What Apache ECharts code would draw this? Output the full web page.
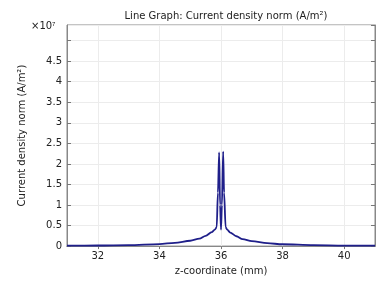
<!DOCTYPE html>
<html>
<head>
<meta charset="utf-8">
<script src="https://cdn.jsdelivr.net/npm/echarts@6/dist/echarts.min.js"></script>
<style>
  html, body { margin: 0; padding: 0; background: #fff; }
  #chart { width: 391px; height: 281px; }
</style>
</head>
<body>
<div id="chart"></div>
<script>
// z-coordinate (mm) and current density norm (A/m^2)
var zCoord = [31, 32, 33, 34, 34.5, 35, 35.3, 35.5, 35.7, 35.8, 35.86, 35.9, 35.94, 35.97, 36.0,
              36.03, 36.07, 36.1, 36.15, 36.2, 36.3, 36.5, 36.7, 37, 37.5, 38, 39, 40, 41];
var jNorm = [0.01e7, 0.015e7, 0.025e7, 0.05e7, 0.08e7, 0.13e7, 0.18e7, 0.25e7, 0.34e7, 0.4e7, 0.46e7, 1.3e7, 2.28e7, 1.0e7, 0.4e7,
             1.0e7, 2.3e7, 1.3e7, 0.46e7, 0.4e7, 0.33e7, 0.24e7, 0.17e7, 0.12e7, 0.07e7, 0.045e7, 0.022e7, 0.013e7, 0.01e7];
var xTicks = [32, 34, 36, 38, 40];

(function() {
    var myChart = echarts.init(document.getElementById('chart'));
    var font = 'DejaVu Sans';
    var pts = zCoord.map(function(z, i) { return [z, jNorm[i]]; });

    var tickStyle = { color: '#777', width: 1 };

    var option = {
        animation: false,
        textStyle: { fontFamily: font },
        title: {
            text: 'Line Graph: Current density norm (A/m²)',
            left: 221, top: 6, textAlign: 'center',
            textStyle: { fontSize: 10, fontWeight: 'normal', color: '#222', fontFamily: font }
        },
        graphic: [{
            type: 'text', left: 31, top: 21,
            style: {
                text: '×10{s|7}',
                rich: { s: { fontSize: 6, verticalAlign: 'top', padding: [0, 0, 5, 0] } },
                fontSize: 10, fill: '#222', fontFamily: font
            }
        }],
        grid: {
            left: 67, right: 16, top: 25, bottom: 29,
            show: true, borderColor: '#888', borderWidth: 1
        },
        xAxis: [{
            type: 'value', min: 31, max: 41, interval: 1,
            name: 'z-coordinate (mm)', nameLocation: 'middle', nameGap: 17,
            nameTextStyle: { fontSize: 10, color: '#222', fontFamily: font },
            axisLine: { lineStyle: { color: '#888' } },
            axisTick: { inside: true, length: 3, lineStyle: tickStyle, customValues: xTicks },
            axisLabel: { fontSize: 10, color: '#222', margin: 5, customValues: xTicks },
            splitLine: { show: false }
        }, {
            type: 'value', position: 'top', min: 31, max: 41, interval: 1,
            axisLine: { lineStyle: { color: '#888' } },
            axisTick: { inside: true, length: 3, lineStyle: tickStyle, customValues: xTicks },
            axisLabel: { show: false },
            splitLine: { show: false }
        }],
        yAxis: [{
            type: 'value', min: 0, max: 5.38e7, interval: 0.5e7,
            name: 'Current density norm (A/m²)', nameLocation: 'middle', nameGap: 40,
            nameTextStyle: { fontSize: 10, color: '#222', fontFamily: font },
            axisLine: { lineStyle: { color: '#888' } },
            axisTick: { inside: true, length: 4, lineStyle: tickStyle },
            axisLabel: {
                fontSize: 10, color: '#222', margin: 5, showMaxLabel: false,
                formatter: function(v) {
                    if (v > 4.6e7) return '';
                    return String(Math.round(v / 1e6) / 10);
                }
            },
            splitLine: { lineStyle: { color: '#ececec' } }
        }, {
            type: 'value', position: 'right', min: 0, max: 5.38e7, interval: 0.5e7,
            axisLine: { show: true, lineStyle: { color: '#888' } },
            axisTick: { show: true, inside: true, length: 4, lineStyle: tickStyle },
            axisLabel: { show: false },
            splitLine: { show: false }
        }],
        series: [{
            type: 'line',
            data: pts,
            smooth: 0.3,
            smoothMonotone: 'x',
            showSymbol: false,
            lineStyle: { color: '#1f1f8a', width: 1.8 },
            markLine: {
                silent: true, symbol: 'none', label: { show: false },
                lineStyle: { color: '#ececec', type: 'solid', width: 1 },
                data: xTicks.map(function(t) { return { xAxis: t }; })
            },
            z: 5
        }]
    };

    myChart.setOption(option);
    window.addEventListener('resize', function() {
        myChart.resize();
    });
})();
</script>
</body>
</html>
